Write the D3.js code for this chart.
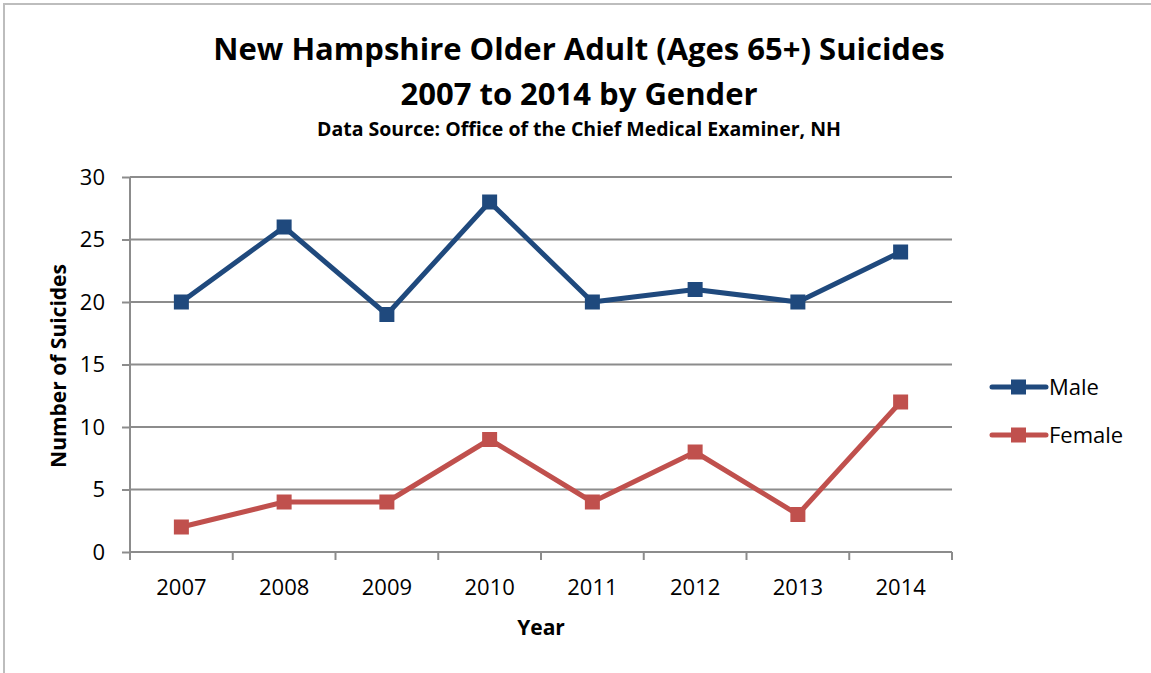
<!DOCTYPE html>
<html>
<head>
    <title>NH Older Adult Suicides</title>
    <script src="https://d3js.org/d3.v7.min.js"></script>
    <style>
        body { margin: 0; background: #fff; }
        text { font-family: 'Open Sans', 'Noto Sans', sans-serif; fill: #000; }
        .tick text { font-size: 22px; }
        .title { font-weight: bold; }
    </style>
</head>
<body>
<div id="chart"></div>
<script>
    // data
    const years = ['2007', '2008', '2009', '2010', '2011', '2012', '2013', '2014'];
    const male = [20, 26, 19, 28, 20, 21, 20, 24];
    const female = [2, 4, 4, 9, 4, 8, 3, 12];
    const yTicks = [0, 5, 10, 15, 20, 25, 30];
    const seriesNames = ['Male', 'Female'];
    const seriesColors = ['#1F497D', '#C0504D'];

    const width = 1151, height = 673;
    const plot = { left: 130, right: 952, top: 177, bottom: 552 };

    const svg = d3.select('#chart').append('svg')
        .attr('width', width)
        .attr('height', height);

    // outer chart frame (clipped at right and bottom in the picture)
    svg.append('rect')
        .attr('x', 4).attr('y', 4)
        .attr('width', width + 10).attr('height', height + 10)
        .attr('fill', 'none')
        .attr('stroke', '#bdbdbd')
        .attr('stroke-width', 2);

    const x = d3.scaleBand().domain(years).range([plot.left, plot.right]);
    const y = d3.scaleLinear().domain([0, 30]).range([plot.bottom, plot.top]);

    // gridlines
    svg.append('g')
        .selectAll('line')
        .data(yTicks.filter(d => d > 0))
        .join('line')
        .attr('x1', plot.left).attr('x2', plot.right)
        .attr('y1', d => y(d)).attr('y2', d => y(d))
        .attr('stroke', '#8c8c8c')
        .attr('stroke-width', 2);

    // y axis
    const yAxis = svg.append('g')
        .attr('transform', `translate(${plot.left},0)`)
        .call(d3.axisLeft(y).tickValues(yTicks).tickSize(8).tickPadding(17));
    yAxis.select('.domain').attr('stroke', '#8c8c8c').attr('stroke-width', 2).attr('d', `M0,${plot.top}V${plot.bottom}`);
    yAxis.selectAll('.tick line').attr('stroke', '#8c8c8c').attr('stroke-width', 2);

    // x axis, ticks on band edges
    const xAxis = svg.append('g')
        .attr('transform', `translate(0,${plot.bottom})`)
        .call(d3.axisBottom(x).tickSize(0).tickPadding(27));
    xAxis.select('.domain').attr('stroke', '#8c8c8c').attr('stroke-width', 2).attr('d', `M${plot.left},0H${plot.right}`);
    xAxis.append('g')
        .selectAll('line')
        .data(years.concat(['end']))
        .join('line')
        .attr('x1', (d, i) => i < years.length ? x(d) : x(years[years.length - 1]) + x.bandwidth())
        .attr('x2', (d, i) => i < years.length ? x(d) : x(years[years.length - 1]) + x.bandwidth())
        .attr('y1', 0).attr('y2', 8)
        .attr('stroke', '#8c8c8c')
        .attr('stroke-width', 2);

    // series
    const line = d3.line()
        .x((d, i) => x(years[i]) + x.bandwidth() / 2)
        .y(d => y(d));

    [male, female].forEach((values, s) => {
        svg.append('path')
            .datum(values)
            .attr('d', line)
            .attr('fill', 'none')
            .attr('stroke', seriesColors[s])
            .attr('stroke-width', 5)
            .attr('stroke-linejoin', 'round');
        svg.append('g')
            .selectAll('rect')
            .data(values)
            .join('rect')
            .attr('x', (d, i) => x(years[i]) + x.bandwidth() / 2 - 7.5)
            .attr('y', d => y(d) - 7.5)
            .attr('width', 15).attr('height', 15)
            .attr('fill', seriesColors[s]);
    });

    // titles
    svg.append('text').attr('class', 'title')
        .attr('x', 579).attr('y', 60)
        .attr('text-anchor', 'middle')
        .style('font-size', '31px')
        .text('New Hampshire Older Adult (Ages 65+) Suicides');
    svg.append('text').attr('class', 'title')
        .attr('x', 579).attr('y', 105)
        .attr('text-anchor', 'middle')
        .style('font-size', '31px')
        .text('2007 to 2014 by Gender');
    svg.append('text').attr('class', 'title')
        .attr('x', 579).attr('y', 136)
        .attr('text-anchor', 'middle')
        .style('font-size', '19.5px')
        .text('Data Source: Office of the Chief Medical Examiner, NH');

    svg.append('text').attr('class', 'title')
        .attr('transform', 'translate(66,366) rotate(-90)')
        .attr('text-anchor', 'middle')
        .style('font-size', '21px')
        .text('Number of Suicides');
    svg.append('text').attr('class', 'title')
        .attr('x', 541).attr('y', 635)
        .attr('text-anchor', 'middle')
        .style('font-size', '21px')
        .text('Year');

    // legend
    const legend = svg.append('g')
        .selectAll('g')
        .data(seriesNames)
        .join('g')
        .attr('transform', (d, i) => `translate(992,${387 + i * 48})`);
    legend.append('line')
        .attr('x1', 0).attr('x2', 54)
        .attr('stroke', (d, i) => seriesColors[i])
        .attr('stroke-width', 5)
        .attr('stroke-linecap', 'round');
    legend.append('rect')
        .attr('x', 19).attr('y', -7.5)
        .attr('width', 15).attr('height', 15)
        .attr('fill', (d, i) => seriesColors[i]);
    legend.append('text')
        .attr('x', 57).attr('y', 8)
        .style('font-size', '22px')
        .text(d => d);
</script>
</body>
</html>
